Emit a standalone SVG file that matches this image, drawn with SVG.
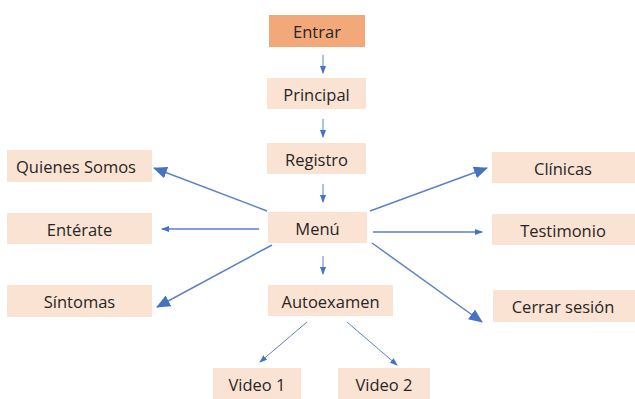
<svg xmlns="http://www.w3.org/2000/svg" width="635" height="399" viewBox="0 0 635 399">
<defs>
<style>
.box{fill:#FBE3D3;}
.top{fill:#F2A878;}
text{font-family:"Open Sans","Liberation Sans",sans-serif;font-size:16.5px;fill:#262626;text-anchor:middle;dominant-baseline:central;}
.ln{stroke:#5B82C8;stroke-width:1.5;fill:none;}
.sm{stroke:#5B82C8;stroke-width:1;fill:none;}
</style>
<marker id="ah" markerUnits="userSpaceOnUse" markerWidth="14" markerHeight="12" refX="13" refY="6" orient="auto"><path d="M0,0 L14,6 L0,12 Z" fill="#4472C4"/></marker>
<marker id="as" markerUnits="userSpaceOnUse" markerWidth="8" markerHeight="6" refX="7" refY="3" orient="auto"><path d="M0,0 L8,3 L0,6 Z" fill="#4472C4"/></marker>
</defs>
<rect width="635" height="399" fill="#fff"/>
<g id="connectors">
<line class="sm" x1="323" y1="55" x2="323" y2="73" marker-end="url(#as)"/>
<line class="sm" x1="323" y1="119" x2="323" y2="137" marker-end="url(#as)"/>
<line class="sm" x1="323" y1="184" x2="323" y2="202" marker-end="url(#as)"/>
<line class="sm" x1="323" y1="256" x2="323" y2="274" marker-end="url(#as)"/>
<line class="ln" x1="267" y1="211" x2="154" y2="168" marker-end="url(#ah)"/>
<line class="ln" x1="259" y1="229" x2="162" y2="229" marker-end="url(#as)"/>
<line class="ln" x1="272" y1="245" x2="157" y2="307" marker-end="url(#ah)"/>
<line class="ln" x1="370" y1="211" x2="487" y2="168" marker-end="url(#ah)"/>
<line class="ln" x1="373" y1="232" x2="482" y2="232" marker-end="url(#as)"/>
<line class="ln" x1="372" y1="243" x2="482" y2="322" marker-end="url(#ah)"/>
<line class="sm" x1="307" y1="322" x2="260" y2="362" marker-end="url(#as)"/>
<line class="sm" x1="347" y1="322" x2="397" y2="365" marker-end="url(#as)"/>
</g>
<g id="entrar"><rect class="top" x="269" y="15" width="96" height="32"/><text x="317" y="31">Entrar</text></g>
<g id="principal"><rect class="box" x="267" y="78" width="99" height="31"/><text x="316.5" y="94">Principal</text></g>
<g id="registro"><rect class="box" x="267" y="143" width="99" height="31"/><text x="316.5" y="159">Registro</text></g>
<g id="menu"><rect class="box" x="268" y="212" width="99" height="31"/><text x="317.5" y="228">Menú</text></g>
<g id="autoexamen"><rect class="box" x="268" y="285" width="125" height="31"/><text x="330.5" y="301">Autoexamen</text></g>
<g id="video1"><rect class="box" x="213" y="368" width="88" height="31"/><text x="257" y="384">Video 1</text></g>
<g id="video2"><rect class="box" x="338" y="368" width="92" height="31"/><text x="384" y="384">Video 2</text></g>
<g id="quienes"><rect class="box" x="7" y="150" width="145" height="32"/><text x="76" y="166">Quienes Somos</text></g>
<g id="enterate"><rect class="box" x="7" y="213" width="145" height="31"/><text x="79.5" y="229">Entérate</text></g>
<g id="sintomas"><rect class="box" x="7" y="285" width="145" height="32"/><text x="79.5" y="301">Síntomas</text></g>
<g id="clinicas"><rect class="box" x="492" y="152" width="143" height="31"/><text x="563" y="168">Clínicas</text></g>
<g id="testimonio"><rect class="box" x="492" y="214" width="143" height="31"/><text x="563" y="230">Testimonio</text></g>
<g id="cerrar"><rect class="box" x="493" y="290" width="142" height="32"/><text x="563" y="306">Cerrar sesión</text></g>
</svg>
